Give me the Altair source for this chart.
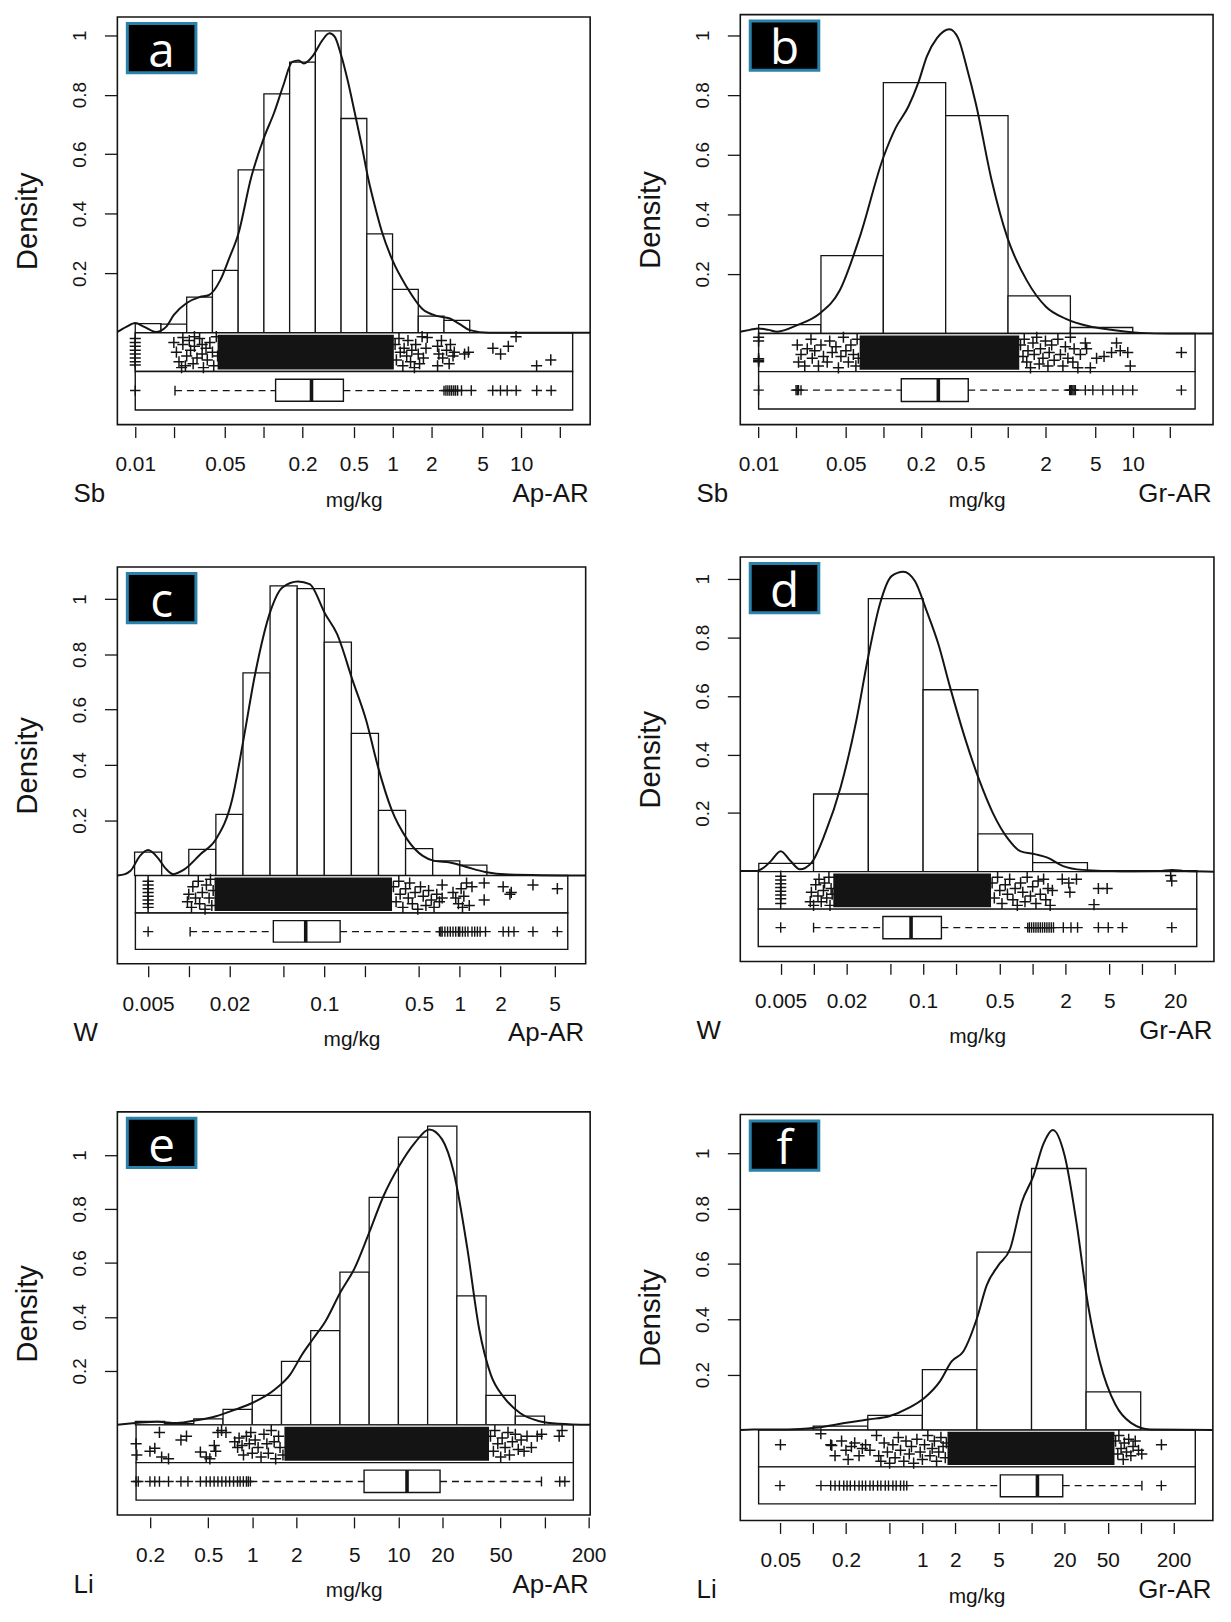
import altair as alt
import numpy as np
import pandas as pd

FONT = "Liberation Sans"
LETTER_FONT = "Open Sans"
BLUE = "#2a82aa"
INK = "#141414"
PLUS = "M-1,0L1,0M0,-1L0,1"

# ============ panel a : Sb, Ap-AR ============
a_ticks = [0.01, 0.02, 0.05, 0.1, 0.2, 0.5, 1, 2, 5, 10, 20]
a_tick_labels = [0.01, 0.05, 0.2, 0.5, 1, 2, 5, 10]
a_xrange_log = [-2.139, 1.536]
a_yrange = [-0.3085, 1.069]
a_frame_top = 1.061
a_strip_log = [-2.0, 1.40]
a_strip_y = [-0.130, -0.2595]
a_box_y = [-0.156, -0.230, -0.194]
a_edges_log = [-2.0, -1.8, -1.6, -1.4, -1.2, -1.0, -0.8, -0.6, -0.4, -0.2, 0.0, 0.2, 0.4, 0.6]
a_hist = [0.031, 0.029, 0.12, 0.21, 0.547, 0.803, 0.909, 1.014, 0.72, 0.332, 0.146, 0.056, 0.042]
a_density = [(-2.139, 0.003), (-2.07, 0.02), (-2.0, 0.033), (-1.93, 0.02), (-1.84, 0.003), (-1.76, 0.02),
             (-1.70, 0.06), (-1.6, 0.10), (-1.5, 0.12), (-1.43, 0.126), (-1.34, 0.176), (-1.27, 0.25),
             (-1.2, 0.33), (-1.1, 0.52), (-1.0, 0.655), (-0.92, 0.74), (-0.85, 0.83), (-0.78, 0.91),
             (-0.73, 0.915), (-0.69, 0.905), (-0.615, 0.933), (-0.55, 0.98), (-0.49, 1.006), (-0.45, 0.995),
             (-0.4, 0.933), (-0.35, 0.85), (-0.296, 0.744), (-0.24, 0.63), (-0.19, 0.52), (-0.14, 0.43),
             (-0.085, 0.343), (0.0, 0.243), (0.11, 0.154), (0.23, 0.081), (0.35, 0.056), (0.445, 0.048),
             (0.52, 0.03), (0.6, 0.009), (0.75, 0.0), (1.536, 0.0)]
a_core_log = [-1.36, 0.01]
a_five_log = [-1.691, -0.909, -0.630, -0.382, 0.40]
a_outliers_log = [-2.0, 0.415, 0.43, 0.445, 0.46, 0.476, 0.49, 0.506, 0.536, 0.612, 0.779, 0.839, 0.891,
                  0.961, 1.121, 1.233]
a_points = [(-2.0, 0.15), (-2.0, 0.25), (-2.0, 0.35), (-2.0, 0.45), (-2.0, 0.55), (-2.0, 0.65), (-2.0, 0.75),
            (-2.0, 0.83),
            (-1.70, 0.25), (-1.68, 0.5), (-1.66, 0.75), (-1.64, 0.9), (-1.63, 0.3), (-1.60, 0.6), (-1.58, 0.2),
            (-1.57, 0.45), (-1.55, 0.8), (-1.54, 0.35), (-1.52, 0.65), (-1.50, 0.15), (-1.48, 0.55),
            (-1.47, 0.9), (-1.45, 0.4), (-1.44, 0.7), (-1.42, 0.25), (-1.40, 0.5), (-1.39, 0.85), (-1.37, 0.1),
            (-1.36, 0.6), (-1.63, 0.12), (-1.54, 0.1), (-1.48, 0.3), (-1.61, 0.85),
            (0.02, 0.3), (0.03, 0.7), (0.05, 0.15), (0.06, 0.5), (0.08, 0.85), (0.09, 0.4), (0.11, 0.6),
            (0.12, 0.2), (0.14, 0.75), (0.15, 0.45), (0.17, 0.9), (0.18, 0.3), (0.20, 0.55), (0.21, 0.8),
            (0.23, 0.1), (0.24, 0.65), (0.26, 0.4), (0.27, 0.12), (0.35, 0.35), (0.36, 0.55), (0.38, 0.2),
            (0.39, 0.65), (0.42, 0.45), (0.44, 0.8), (0.45, 0.3), (0.47, 0.6), (0.48, 0.5), (0.35, 0.85),
            (0.56, 0.55), (0.59, 0.5), (0.78, 0.4), (0.84, 0.55), (0.90, 0.35), (0.96, 0.1), (1.12, 0.85),
            (1.23, 0.7)]

# ============ panel b : Sb, Gr-AR ============
b_ticks = [0.01, 0.02, 0.05, 0.1, 0.2, 0.5, 1, 2, 5, 10, 20]
b_tick_labels = [0.01, 0.05, 0.2, 0.5, 2, 5, 10]
b_xrange_log = [-2.147, 1.644]
b_yrange = [-0.3056, 1.069]
b_frame_top = 1.069
b_strip_log = [-2.0, 1.50]
b_strip_y = [-0.128, -0.253]
b_box_y = [-0.152, -0.228, -0.19]
b_edges_log = [-2.0, -1.5, -1.0, -0.5, 0.0, 0.5, 1.0]
b_hist = [0.03, 0.261, 0.841, 0.73, 0.126, 0.02]
b_density = [(-2.147, 0.006), (-2.07, 0.012), (-2.0, 0.017), (-1.92, 0.012), (-1.85, 0.006), (-1.69, 0.028),
             (-1.51, 0.067), (-1.35, 0.144), (-1.19, 0.322), (-1.0, 0.59), (-0.9, 0.69), (-0.8, 0.76),
             (-0.72, 0.84), (-0.65, 0.93), (-0.57, 0.99), (-0.47, 1.02), (-0.4, 0.99), (-0.33, 0.89),
             (-0.256, 0.767), (-0.13, 0.511), (-0.006, 0.322), (0.15, 0.178), (0.306, 0.089), (0.46, 0.05),
             (0.65, 0.024), (0.81, 0.013), (1.06, 0.002), (1.3, 0.0), (1.644, 0.0)]
b_core_log = [-1.19, 0.09]
b_five_log = [-1.66, -0.856, -0.559, -0.319, 0.494]
b_outliers_log = [-2.0, -1.70, -1.69, -1.68, 0.50, 0.51, 0.52, 0.53, 0.54, 0.62, 0.68, 0.76, 0.84, 0.92,
                  1.0, 1.39]
b_points = [(-2.0, 0.1), (-2.0, 0.2), (-2.0, 0.66), (-2.0, 0.7), (-2.0, 0.74),
            (-1.69, 0.3), (-1.68, 0.75), (-1.66, 0.55), (-1.63, 0.85), (-1.61, 0.4), (-1.58, 0.15),
            (-1.57, 0.65), (-1.55, 0.45), (-1.52, 0.85), (-1.50, 0.3), (-1.48, 0.6), (-1.45, 0.75),
            (-1.43, 0.2), (-1.41, 0.5), (-1.38, 0.35), (-1.36, 0.9), (-1.34, 0.6), (-1.32, 0.1),
            (-1.30, 0.45), (-1.28, 0.75), (-1.26, 0.3), (-1.24, 0.55), (-1.22, 0.85), (-1.21, 0.15),
            (-1.20, 0.65),
            (0.10, 0.3), (0.12, 0.6), (0.13, 0.15), (0.15, 0.75), (0.16, 0.45), (0.18, 0.9), (0.20, 0.25),
            (0.21, 0.55), (0.23, 0.1), (0.25, 0.8), (0.26, 0.4), (0.28, 0.65), (0.30, 0.2), (0.32, 0.85),
            (0.33, 0.5), (0.35, 0.3), (0.37, 0.7), (0.40, 0.15), (0.42, 0.55), (0.44, 0.85), (0.46, 0.35),
            (0.48, 0.65), (0.50, 0.1), (0.52, 0.75), (0.53, 0.4), (0.56, 0.9), (0.58, 0.55), (0.62, 0.25),
            (0.63, 0.4), (0.66, 0.9), (0.71, 0.65), (0.77, 0.6), (0.83, 0.5), (0.87, 0.25), (0.90, 0.45),
            (0.96, 0.5), (0.98, 0.85), (1.39, 0.5)]

# ============ panel c : W, Ap-AR ============
c_ticks = [0.005, 0.01, 0.02, 0.05, 0.1, 0.2, 0.5, 1, 2, 5]
c_tick_labels = [0.005, 0.02, 0.1, 0.5, 1, 2, 5]
c_xrange_log = [-2.527, 0.929]
c_yrange = [-0.319, 1.152]
c_frame_top = 1.116
c_strip_log = [-2.394, 0.797]
c_strip_y = [-0.1355, -0.267]
c_box_y = [-0.163, -0.241, -0.203]
c_edges_log = [-2.4, -2.2, -2.0, -1.8, -1.6, -1.4, -1.2, -1.0, -0.8, -0.6, -0.4, -0.2, 0.0, 0.2]
c_hist = [0.085, 0.0, 0.095, 0.221, 0.733, 1.048, 1.038, 0.844, 0.514, 0.236, 0.097, 0.053, 0.038]
c_density = [(-2.527, 0.0), (-2.47, 0.005), (-2.43, 0.017), (-2.36, 0.071), (-2.30, 0.092), (-2.23, 0.065),
             (-2.17, 0.025), (-2.115, 0.005), (-2.03, 0.023), (-1.914, 0.077), (-1.80, 0.131), (-1.68, 0.275),
             (-1.597, 0.49), (-1.51, 0.73), (-1.396, 0.958), (-1.309, 1.042), (-1.194, 1.064),
             (-1.108, 1.054), (-0.993, 0.946), (-0.906, 0.874), (-0.791, 0.706), (-0.691, 0.562),
             (-0.604, 0.394), (-0.504, 0.239), (-0.388, 0.131), (-0.273, 0.071), (-0.187, 0.053),
             (-0.072, 0.047), (0.043, 0.032), (0.187, 0.013), (0.36, 0.004), (0.929, 0.0)]
c_core_log = [-1.81, -0.50]
c_five_log = [-1.99, -1.376, -1.137, -0.883, -0.15]
c_outliers_log = [-2.30, -0.14, -0.13, -0.11, -0.09, -0.07, -0.05, -0.03, -0.01, 0.0, 0.02, 0.04, 0.06, 0.09,
                  0.11, 0.13, 0.15, 0.19, 0.32, 0.36, 0.40, 0.54, 0.72]
c_points = [(-2.30, 0.15), (-2.30, 0.25), (-2.30, 0.35), (-2.30, 0.45), (-2.30, 0.55), (-2.30, 0.65),
            (-2.30, 0.75), (-2.30, 0.85),
            (-2.01, 0.7), (-2.0, 0.5), (-1.98, 0.85), (-1.97, 0.3), (-1.95, 0.6), (-1.93, 0.15), (-1.92, 0.75),
            (-1.90, 0.45), (-1.88, 0.9), (-1.87, 0.25), (-1.85, 0.6), (-1.84, 0.1), (-1.83, 0.8), (-1.82, 0.4),
            (-0.49, 0.3), (-0.47, 0.7), (-0.45, 0.15), (-0.44, 0.5), (-0.42, 0.85), (-0.40, 0.35),
            (-0.38, 0.6), (-0.37, 0.2), (-0.35, 0.75), (-0.33, 0.45), (-0.31, 0.9), (-0.29, 0.3),
            (-0.27, 0.55), (-0.25, 0.8), (-0.23, 0.4), (-0.21, 0.65), (-0.19, 0.85), (-0.17, 0.5),
            (-0.15, 0.7), (-0.13, 0.25), (-0.13, 0.6), (-0.05, 0.45), (-0.03, 0.6), (-0.01, 0.75),
            (0.01, 0.35), (0.03, 0.55), (0.05, 0.2), (0.07, 0.8), (0.09, 0.3), (0.18, 0.2), (0.18, 0.65),
            (0.32, 0.3), (0.37, 0.5), (0.38, 0.45), (0.54, 0.25), (0.72, 0.35), (0.02, 0.85)]

# ============ panel d : W, Gr-AR ============
d_ticks = [0.005, 0.01, 0.02, 0.05, 0.1, 0.2, 0.5, 1, 2, 5, 10, 20]
d_tick_labels = [0.005, 0.02, 0.1, 0.5, 2, 5, 20]
d_xrange_log = [-2.669, 1.655]
d_yrange = [-0.3066, 1.074]
d_frame_top = 1.074
d_strip_log = [-2.505, 1.498]
d_strip_y = [-0.128, -0.2557]
d_box_y = [-0.153, -0.229, -0.191]
d_edges_log = [-2.5, -2.0, -1.5, -1.0, -0.5, 0.0, 0.5, 1.0, 1.5]
d_hist = [0.028, 0.265, 0.932, 0.621, 0.129, 0.031, 0.003, 0.003]
d_density = [(-2.669, 0.002), (-2.534, 0.002), (-2.45, 0.015), (-2.39, 0.036), (-2.30, 0.07), (-2.21, 0.036),
             (-2.125, 0.008), (-2.018, 0.031), (-1.893, 0.132), (-1.751, 0.291), (-1.609, 0.517),
             (-1.502, 0.732), (-1.395, 0.913), (-1.288, 1.009), (-1.181, 1.024), (-1.075, 0.992),
             (-0.968, 0.89), (-0.861, 0.777), (-0.754, 0.63), (-0.612, 0.449), (-0.488, 0.313),
             (-0.363, 0.2), (-0.221, 0.11), (-0.114, 0.07), (0.028, 0.059), (0.135, 0.048), (0.278, 0.019),
             (0.456, 0.006), (0.811, 0.001), (1.15, 0.002), (1.274, 0.006), (1.4, 0.002), (1.655, 0.0)]
d_core_log = [-1.82, -0.38]
d_five_log = [-2.0, -1.367, -1.11, -0.833, -0.045]
d_outliers_log = [-2.30, -0.03, -0.01, 0.01, 0.03, 0.05, 0.07, 0.09, 0.11, 0.13, 0.15, 0.17, 0.19, 0.28, 0.35,
                  0.41, 0.60, 0.69, 0.82, 1.27]
d_points = [(-2.30, 0.12), (-2.30, 0.22), (-2.30, 0.32), (-2.30, 0.42), (-2.30, 0.52), (-2.30, 0.62),
            (-2.30, 0.72), (-2.30, 0.85),
            (-2.03, 0.8), (-2.02, 0.55), (-2.0, 0.9), (-1.98, 0.35), (-1.96, 0.65), (-1.95, 0.2), (-1.93, 0.8),
            (-1.91, 0.5), (-1.90, 0.3), (-1.88, 0.7), (-1.86, 0.15), (-1.85, 0.9), (-1.84, 0.45), (-1.83, 0.6),
            (-0.37, 0.3), (-0.35, 0.7), (-0.32, 0.15), (-0.30, 0.5), (-0.28, 0.85), (-0.25, 0.35),
            (-0.23, 0.6), (-0.21, 0.2), (-0.18, 0.75), (-0.16, 0.45), (-0.14, 0.9), (-0.11, 0.3),
            (-0.09, 0.55), (-0.07, 0.8), (-0.05, 0.15), (-0.02, 0.65), (0.0, 0.4), (0.03, 0.85), (0.05, 0.25),
            (0.07, 0.6), (0.10, 0.2), (0.12, 0.75), (0.14, 0.45), (0.16, 0.9), (0.18, 0.5), (0.27, 0.2),
            (0.33, 0.3), (0.34, 0.55), (0.40, 0.2), (0.60, 0.45), (0.56, 0.88), (0.68, 0.45), (1.26, 0.1),
            (1.27, 0.25)]

# ============ panel e : Li, Ap-AR ============
e_ticks = [0.2, 0.5, 1, 2, 5, 10, 20, 50, 100, 200]
e_tick_labels = [0.2, 0.5, 1, 2, 5, 10, 20, 50, 200]
e_xrange_log = [-0.923, 2.312]
e_yrange = [-0.334, 1.2204]
e_frame_top = 1.160
e_strip_log = [-0.795, 2.197]
e_strip_y = [-0.140, -0.279]
e_box_y = [-0.168, -0.251, -0.21]
e_edges_log = [-0.8, -0.6, -0.4, -0.2, 0.0, 0.2, 0.4, 0.6, 0.8, 1.0, 1.2, 1.4, 1.6, 1.8, 2.0]
e_hist = [0.013, 0.004, 0.022, 0.057, 0.109, 0.235, 0.349, 0.566, 0.843, 1.066, 1.107, 0.478, 0.109, 0.032]
e_density = [(-0.923, 0.0), (-0.648, 0.011), (-0.515, 0.007), (-0.381, 0.017), (-0.248, 0.032),
             (-0.115, 0.057), (0.0, 0.081), (0.152, 0.13), (0.259, 0.186), (0.339, 0.259), (0.419, 0.321),
             (0.499, 0.382), (0.605, 0.493), (0.699, 0.579), (0.792, 0.701), (0.899, 0.849), (1.005, 0.959),
             (1.112, 1.045), (1.211, 1.095), (1.299, 1.058), (1.379, 0.935), (1.472, 0.652), (1.552, 0.357),
             (1.632, 0.186), (1.725, 0.1), (1.832, 0.044), (1.965, 0.0135), (2.099, 0.004), (2.312, 0.0)]
e_core_log = [0.22, 1.62]
e_five_log = [-0.013, 0.765, 1.059, 1.285, 1.979]
e_outliers_log = [-0.795, -0.78, -0.70, -0.667, -0.635, -0.573, -0.488, -0.44, -0.355, -0.315, -0.288, -0.261,
                  -0.235, -0.208, -0.181, -0.155, -0.128, -0.101, -0.083, -0.061, -0.04, -0.027, 2.104, 2.139]
e_points = [(-0.795, 0.5), (-0.79, 0.8), (-0.70, 0.7), (-0.667, 0.62), (-0.635, 0.2), (-0.62, 0.85),
            (-0.573, 0.9), (-0.488, 0.4), (-0.45, 0.3), (-0.355, 0.72), (-0.315, 0.85), (-0.29, 0.9),
            (-0.26, 0.55), (-0.25, 0.7), (-0.235, 0.2), (-0.21, 0.15), (-0.18, 0.2), (-0.12, 0.45),
            (-0.10, 0.6), (-0.09, 0.35), (-0.07, 0.55), (-0.06, 0.8), (-0.04, 0.3), (-0.02, 0.5),
            (-0.01, 0.2), (0.0, 0.75), (0.02, 0.4), (0.04, 0.6), (0.06, 0.85), (0.08, 0.25), (0.10, 0.5),
            (0.11, 0.75), (0.13, 0.15), (0.15, 0.45), (0.16, 0.9), (0.18, 0.3), (0.19, 0.6), (0.21, 0.8),
            (1.63, 0.3), (1.65, 0.7), (1.66, 0.15), (1.68, 0.5), (1.70, 0.85), (1.71, 0.35), (1.73, 0.6),
            (1.75, 0.2), (1.76, 0.8), (1.78, 0.45), (1.80, 0.25), (1.82, 0.65), (1.84, 0.4), (1.86, 0.7),
            (1.88, 0.3), (1.91, 0.6), (1.95, 0.3), (1.98, 0.25), (2.10, 0.3), (2.12, 0.15)]

# ============ panel f : Li, Gr-AR ============
f_ticks = [0.05, 0.1, 0.2, 0.5, 1, 2, 5, 10, 20, 50, 100, 200]
f_tick_labels = [0.05, 0.2, 1, 2, 5, 20, 50, 200]
f_xrange_log = [-1.668, 2.661]
f_yrange = [-0.327, 1.2086]
f_frame_top = 1.140
f_strip_log = [-1.5, 2.5]
f_strip_y = [-0.133, -0.267]
f_box_y = [-0.162, -0.241, -0.201]
f_edges_log = [-1.0, -0.5, 0.0, 0.5, 1.0, 1.5, 2.0]
f_hist = [0.014, 0.053, 0.218, 0.643, 0.945, 0.138]
f_density = [(-1.668, 0.0), (-1.554, 0.002), (-1.232, 0.002), (-0.982, 0.008), (-0.696, 0.026), (-0.5, 0.038),
             (-0.304, 0.05), (-0.125, 0.08), (0.018, 0.116), (0.161, 0.176), (0.268, 0.248), (0.375, 0.284),
             (0.5, 0.404), (0.589, 0.523), (0.696, 0.595), (0.804, 0.655), (0.911, 0.823), (1.018, 0.919),
             (1.107, 1.032), (1.196, 1.084), (1.304, 0.99), (1.411, 0.751), (1.518, 0.451), (1.625, 0.248),
             (1.768, 0.092), (1.911, 0.026), (2.089, 0.002), (2.661, 0.0)]
f_core_log = [0.23, 1.76]
f_five_log = [-0.143, 0.714, 1.054, 1.286, 2.011]
f_outliers_log = [-1.304, -0.929, -0.84, -0.80, -0.76, -0.72, -0.69, -0.66, -0.62, -0.58, -0.55, -0.52, -0.48,
                  -0.45, -0.41, -0.38, -0.34, -0.31, -0.27, -0.24, -0.20, -0.17, 2.189]
f_points = [(-1.30, 0.4), (-0.93, 0.1), (-0.84, 0.4), (-0.83, 0.42), (-0.80, 0.7), (-0.74, 0.3), (-0.70, 0.55),
            (-0.68, 0.8), (-0.65, 0.45), (-0.62, 0.35), (-0.58, 0.7), (-0.55, 0.5), (-0.52, 0.4),
            (-0.48, 0.55), (-0.42, 0.15), (-0.40, 0.7), (-0.38, 0.85), (-0.35, 0.35), (-0.32, 0.6),
            (-0.30, 0.9), (-0.27, 0.4), (-0.25, 0.75), (-0.22, 0.2), (-0.20, 0.55), (-0.17, 0.85),
            (-0.15, 0.3), (-0.12, 0.65), (-0.10, 0.45), (-0.08, 0.9), (-0.05, 0.25), (-0.02, 0.6), (0.0, 0.8),
            (0.02, 0.4), (0.05, 0.15), (0.07, 0.7), (0.09, 0.5), (0.11, 0.3), (0.13, 0.85), (0.15, 0.6),
            (0.17, 0.2), (0.19, 0.45), (0.21, 0.75), (0.22, 0.35),
            (1.77, 0.3), (1.79, 0.65), (1.80, 0.15), (1.82, 0.5), (1.84, 0.8), (1.85, 0.35), (1.87, 0.6),
            (1.89, 0.25), (1.91, 0.7), (1.93, 0.45), (1.95, 0.3), (1.98, 0.55), (2.01, 0.65), (2.19, 0.4)]

# panel texts
letters = ["a", "b", "c", "d", "e", "f"]
elements = ["Sb", "Sb", "W", "W", "Li", "Li"]
regions = ["Ap-AR", "Gr-AR", "Ap-AR", "Gr-AR", "Ap-AR", "Gr-AR"]

# layout: plot width, plot height, frame offset from plot top (px)
layout = {"a": (475.5, 412.4, 2.4), "b": (475.5, 412.4, 0.0), "c": (471.0, 409.0, 10.0),
          "d": (476.4, 406.7, 0.0), "e": (475.5, 421.8, 16.4), "f": (475.3, 427.4, 19.1)}


def p10(v):
    return 10.0 ** np.asarray(v, dtype=float)


def build(k, letter, element, region):
    g = globals()
    ticks, labels = g[k + "_ticks"], g[k + "_tick_labels"]
    xr, yr, ftop = g[k + "_xrange_log"], g[k + "_yrange"], g[k + "_frame_top"]
    strip, sy, by = g[k + "_strip_log"], g[k + "_strip_y"], g[k + "_box_y"]
    edges, hist, dens = g[k + "_edges_log"], g[k + "_hist"], g[k + "_density"]
    core, five, outl, pts = g[k + "_core_log"], g[k + "_five_log"], g[k + "_outliers_log"], g[k + "_points"]
    W, H, off = layout[k]
    s1, s2 = sy
    blo, bhi, bc = by

    xs = alt.Scale(type="log", domain=[float(10 ** xr[0]), float(10 ** xr[1])], nice=False)
    ys = alt.Scale(domain=yr, nice=False, zero=False)
    labs = "[" + ",".join(repr(v) for v in labels) + "]"
    xaxis = alt.Axis(values=ticks, labelExpr=f"indexof({labs}, datum.value) >= 0 ? format(datum.value, '~g') : ''",
                     labelFlush=False, labelOverlap=False, labelBound=False, domain=False, grid=False,
                     tickSize=11, tickWidth=1.3, tickColor=INK, offset=2, labelPadding=33.6,
                     labelBaseline="alphabetic", labelAlign="center", labelFont=FONT, labelFontSize=21,
                     labelColor=INK, title="mg/kg", titleFont=FONT, titleFontSize=21, titleFontWeight="normal",
                     titleColor=INK, titleX=W / 2, titleY=80, titleAlign="center", titleBaseline="alphabetic")
    yaxis = alt.Axis(values=[0.2, 0.4, 0.6, 0.8, 1], labelExpr="format(datum.value, '~g')", domain=False,
                     grid=False, tickSize=13, tickWidth=1.3, tickColor=INK, labelAngle=270, labelAlign="center",
                     labelBaseline="alphabetic", labelPadding=18.7, labelFont=FONT, labelFontSize=19,
                     labelColor=INK, labelOverlap=False, labelFlush=False, title="Density", titleFont=FONT,
                     titleFontSize=29.5, titleFontWeight="normal", titleColor=INK, titleAngle=270, titleX=-81.5,
                     titleY=off + (H - off) / 2, titleAlign="center", titleBaseline="alphabetic")

    def X(f="x"):
        return alt.X(f + ":Q", scale=xs, axis=xaxis)

    def Y(f="y"):
        return alt.Y(f + ":Q", scale=ys, axis=yaxis)

    frame_df = pd.DataFrame({"x": p10([xr[0]]), "x2": p10([xr[1]]), "y": [yr[0]], "y2": [ftop]})
    frame_l = alt.Chart(frame_df).mark_rect(fill="white", fillOpacity=0, stroke=INK, strokeWidth=1.6).encode(
        x=X(), x2="x2:Q", y=Y(), y2="y2:Q")

    hist_df = pd.DataFrame({"x": p10(edges[:-1]), "x2": p10(edges[1:]), "y": 0.0, "y2": hist})
    hist_l = alt.Chart(hist_df).mark_rect(fill="white", stroke=INK, strokeWidth=1.3).encode(
        x=X(), x2="x2:Q", y=Y(), y2="y2:Q")

    strip_df = pd.DataFrame({"x": p10([strip[0], strip[0]]), "x2": p10([strip[1], strip[1]]),
                             "y": [0.0, s1], "y2": [s1, s2]})
    strip_l = alt.Chart(strip_df).mark_rect(fill="white", stroke=INK, strokeWidth=1.4).encode(
        x=X(), x2="x2:Q", y=Y(), y2="y2:Q")

    core_df = pd.DataFrame({"x": p10([core[0]]), "x2": p10([core[1]]), "y": [s1 * 0.05], "y2": [s1 * 0.95]})
    core_l = alt.Chart(core_df).mark_rect(fill=INK, strokeWidth=0).encode(x=X(), x2="x2:Q", y=Y(), y2="y2:Q")

    pts_df = pd.DataFrame({"x": p10([p[0] for p in pts]), "y": [p[1] * s1 for p in pts]})
    pts_l = alt.Chart(pts_df).mark_point(shape=PLUS, size=125, filled=False, stroke=INK, strokeWidth=1.5,
                                         opacity=1).encode(x=X(), y=Y())

    box_df = pd.DataFrame({"x": p10([five[1]]), "x2": p10([five[3]]), "y": [blo], "y2": [bhi]})
    box_l = alt.Chart(box_df).mark_rect(fill="white", stroke=INK, strokeWidth=1.4).encode(
        x=X(), x2="x2:Q", y=Y(), y2="y2:Q")

    wh_df = pd.DataFrame({"x": p10([five[0], five[3]]), "x2": p10([five[1], five[4]]), "y": [bc, bc]})
    wh_l = alt.Chart(wh_df).mark_rule(color=INK, strokeWidth=1.3, strokeDash=[7, 5]).encode(
        x=X(), x2="x2:Q", y=Y())

    half = 0.22 * (blo - bhi)
    end_df = pd.DataFrame({"x": p10([five[0], five[4]]), "y": [bc - half, bc - half], "y2": [bc + half, bc + half]})
    end_l = alt.Chart(end_df).mark_rule(color=INK, strokeWidth=1.4).encode(x=X(), y=Y(), y2="y2:Q")

    med_df = pd.DataFrame({"x": p10([five[2]]), "y": [blo], "y2": [bhi]})
    med_l = alt.Chart(med_df).mark_rule(color=INK, strokeWidth=3.6).encode(x=X(), y=Y(), y2="y2:Q")

    out_df = pd.DataFrame({"x": p10(outl), "y": bc})
    out_l = alt.Chart(out_df).mark_point(shape=PLUS, size=110, filled=False, stroke=INK, strokeWidth=1.4,
                                         opacity=1).encode(x=X(), y=Y())

    dens_df = pd.DataFrame({"x": p10([d[0] for d in dens]), "y": [d[1] for d in dens]})
    dens_l = alt.Chart(dens_df).mark_line(color=INK, strokeWidth=2, interpolate="monotone").encode(x=X(), y=Y())

    one = pd.DataFrame({"t": [letter], "e": [element], "r": [region]})
    lab_box = alt.Chart(one).mark_rect(fill="black", stroke=BLUE, strokeWidth=3).encode(
        x=alt.value(10), x2=alt.value(79), y=alt.value(off + 6.5), y2=alt.value(off + 56))
    lab_txt = alt.Chart(one).mark_text(font=LETTER_FONT, fontSize=48, color="white", align="center",
                                       baseline="alphabetic").encode(
        x=alt.value(44.5), y=alt.value(off + 50), text="t:N")
    el_txt = alt.Chart(one).mark_text(font=FONT, fontSize=26, color=INK, align="left",
                                      baseline="alphabetic").encode(
        x=alt.value(-44), y=alt.value(H + 78), text="e:N")
    rg_txt = alt.Chart(one).mark_text(font=FONT, fontSize=26, color=INK, align="right",
                                      baseline="alphabetic").encode(
        x=alt.value(W - 1.5), y=alt.value(H + 78), text="r:N")

    return alt.layer(frame_l, hist_l, strip_l, core_l, pts_l, box_l, wh_l, end_l, med_l, out_l, dens_l,
                     lab_box, lab_txt, el_txt, rg_txt).properties(width=W, height=H)


panels = [build(k, l, e, r) for k, l, e, r in zip(["a", "b", "c", "d", "e", "f"], letters, elements, regions)]

chart = alt.concat(*panels, columns=2, spacing={"row": 132.6, "column": 150.5}, bounds="flush",
                   align="each").properties(
    padding={"left": 3, "top": 0, "right": 4, "bottom": 4}
).configure_view(stroke="transparent")

chart.save("out.html", embed_options={"renderer": "svg", "actions": False})
